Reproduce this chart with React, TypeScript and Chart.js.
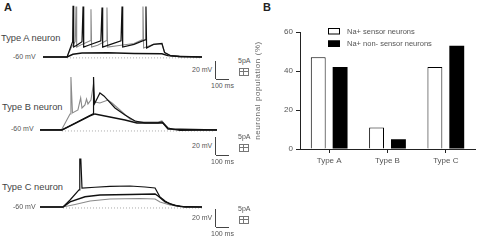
import React, { useEffect, useRef } from "react";
import { Chart, registerables } from "chart.js";
Chart.register(...registerables);

const FONT = "'Liberation Sans', Arial, Helvetica, sans-serif";

// ---------------- Panel B data ----------------
const categories = ["Type A", "Type B", "Type C"];
const sensorNeurons = [47, 11, 42];
const nonSensorNeurons = [42, 5, 53];
const yTickValues = [0, 20, 40, 60];
const legendLabels = ["Na+ sensor neurons", "Na+ non- sensor neurons"];
const yAxisTitle = "neuronal population (%)";

// ---------------- Panel A data (time ms, membrane potential mV) ----------------
type Pair = [number, number];

const typeASubthreshold: Pair[] = [[0,-60],[185,-60],[230,-57],[300,-55.5],[500,-55.3],[700,-56],[915,-56.5],[960,-58.5],[1050,-59.5],[1223,-60]];
const typeASpikingBlack: Pair[] = [[0,-60],[185,-60],[215,-48],[228,-43],[231,-3],[236,-49],[260,-47],[300,-43],[308,-4],[313,-49],[350,-47],[445,-42],[454,-5],[459,-49],[520,-46],[600,-42],[608,-4],[613,-49],[700,-46],[785,-41],[792,-4],[797,-50],[850,-46],[915,-45],[935,-55],[980,-58.5],[1050,-59.5],[1223,-60]];
const typeASpikingGray: Pair[] = [[0,-60],[185,-60],[215,-50],[248,-43],[254,-4],[259,-49],[300,-46],[362,-42],[369,-7],[374,-49],[420,-47],[485,-42],[492,-5],[497,-49],[600,-47],[700,-45],[762,-41],[769,-4],[774,-50],[850,-46],[915,-45.5],[935,-55],[980,-58.5],[1223,-60]];
const typeABaseline: Pair[] = [[185,-61],[1207,-61]];

const typeBGray: Pair[] = [[0,-60],[165,-60],[231,-42.2],[238,-1.1],[250,-41.1],[292,-37.8],[313,-24.4],[323,-35.6],[346,-32.2],[358,-25.6],[369,-31.1],[392,-26.7],[408,-12.2],[423,-28.9],[461,-30],[523,-26.7],[554,-30],[615,-37.8],[692,-47.8],[754,-51.1],[908,-51.1],[938,-50],[985,-57.8],[1038,-60],[1362,-60]];
const typeBBlackSpike: Pair[] = [[0,-60],[169,-60],[408,-42.2],[412,-1.1],[419,-31.1],[461,-18.9],[492,-22.2],[577,-35.6],[654,-43.3],[731,-50],[808,-52.2],[908,-52.2],[938,-51.1],[985,-57.8],[1077,-60.6],[1362,-60]];
const typeBBlackSub: Pair[] = [[0,-60],[169,-60],[385,-44.4],[423,-42.2],[538,-45.6],[654,-48.9],[746,-52.2],[908,-52.2],[946,-52.2],[985,-58.9],[1362,-60]];
const typeBBaseline: Pair[] = [[169,-61.1],[1346,-61.1]];

const typeCTop: Pair[] = [[0,-60],[177,-60],[231,-52.2],[300,-41.1],[306,-6.7],[314,-6.7],[323,-38.9],[423,-38.1],[538,-37.2],[692,-36.7],[808,-37.8],[885,-38.9],[923,-48.9],[962,-53.3],[1000,-56.7],[1077,-59.4],[1246,-60]];
const typeCMid: Pair[] = [[0,-60],[177,-60],[231,-54.4],[346,-48.6],[461,-46.7],[692,-46.1],[885,-45.6],[908,-47.8],[962,-54.4],[1038,-58.3],[1115,-60],[1246,-60]];
const typeCLow: Pair[] = [[0,-60],[177,-60],[269,-57.2],[385,-53.3],[538,-51.1],[769,-50.6],[885,-51.1],[923,-54.4],[1000,-57.8],[1115,-60],[1246,-60]];
const typeCBaseline: Pair[] = [[177,-61.1],[1246,-61.1]];

type Trace = { data: Pair[]; color: string; width: number; dash?: number[] };

function TraceChart(props: { traces: Trace[]; left: number; top: number; width: number; height: number; xMax: number; yMin: number; yMax: number }) {
  const ref = useRef<HTMLCanvasElement>(null);
  useEffect(() => {
    const chart = new Chart(ref.current!, {
      type: "line",
      data: {
        datasets: props.traces.map((tr) => ({
          data: tr.data.map(([x, y]) => ({ x, y })),
          borderColor: tr.color,
          borderWidth: tr.width,
          borderDash: tr.dash || [],
          pointRadius: 0,
          tension: 0,
          fill: false,
          clip: false,
        })) as any,
      },
      options: {
        animation: false,
        responsive: false,
        devicePixelRatio: 1,
        events: [],
        layout: { padding: 0 },
        plugins: { legend: { display: false }, tooltip: { enabled: false } },
        scales: {
          x: { type: "linear", display: false, min: 0, max: props.xMax },
          y: { type: "linear", display: false, min: props.yMin, max: props.yMax },
        },
      },
    });
    return () => chart.destroy();
  }, []);
  return (
    <canvas
      ref={ref}
      width={props.width}
      height={props.height}
      style={{ position: "absolute", left: props.left, top: props.top, width: props.width, height: props.height }}
    />
  );
}

const legendPlugin = {
  id: "insideLegend",
  afterDraw(chart: any) {
    const ctx = chart.ctx as CanvasRenderingContext2D;
    ctx.save();
    legendLabels.forEach((label, i) => {
      const y = 8 + i * 12.5;
      ctx.fillStyle = i === 0 ? "#fff" : "#000";
      ctx.fillRect(78, y, 12, 6.5);
      ctx.strokeStyle = "#000";
      ctx.lineWidth = 1;
      ctx.strokeRect(78.5, y + 0.5, 11, 5.5);
      ctx.fillStyle = "#555";
      ctx.font = `7.5px ${FONT}`;
      ctx.textBaseline = "middle";
      ctx.fillText(label, 97, y + 3.5);
    });
    ctx.restore();
    // rotated y-axis title with slight letter spacing (canvas coords)
    ctx.save();
    const area = chart.chartArea;
    ctx.translate(8, (area.top + area.bottom) / 2);
    ctx.rotate(-Math.PI / 2);
    (ctx as any).letterSpacing = "0.6px";
    ctx.fillStyle = "#666";
    ctx.font = `8px ${FONT}`;
    ctx.textAlign = "center";
    ctx.textBaseline = "middle";
    ctx.fillText(yAxisTitle, 0, 0);
    ctx.restore();
  },
};

function BarPanel() {
  const ref = useRef<HTMLCanvasElement>(null);
  useEffect(() => {
    const chart = new Chart(ref.current!, {
      type: "bar",
      data: {
        labels: categories,
        datasets: [
          { label: legendLabels[0], data: sensorNeurons, backgroundColor: "#fff", borderColor: "#000", borderWidth: 1 },
          { label: legendLabels[1], data: nonSensorNeurons, backgroundColor: "#000", borderColor: "#000", borderWidth: 0 },
        ],
      },
      options: {
        animation: false,
        responsive: false,
        devicePixelRatio: 1,
        events: [],
        datasets: { bar: { categoryPercentage: 0.75, barPercentage: 0.68 } },
        layout: { padding: { top: 12, right: 2, left: 0, bottom: 0 } },
        plugins: { legend: { display: false }, tooltip: { enabled: false } },
        scales: {
          x: {
            type: "category",
            grid: { display: true, drawOnChartArea: false, drawTicks: true, tickLength: 4, offset: false, color: "#222" },
            border: { display: true, color: "#222", width: 1 },
            ticks: { color: "#555", font: { family: FONT, size: 8 }, padding: 3 },
            afterFit: (s: any) => { s.height = 23; },
          },
          y: {
            type: "linear",
            min: 0,
            max: 60,
            afterBuildTicks: (s: any) => { s.ticks = yTickValues.map((v) => ({ value: v })); },
            ticks: { color: "#555", font: { family: FONT, size: 8 }, padding: 3 },
            grid: { drawOnChartArea: false, drawTicks: true, tickLength: 4, color: "#222" },
            border: { display: true, color: "#222", width: 1 },
            title: { display: false, text: yAxisTitle },
            afterFit: (s: any) => { s.width = 50; },
          },
        },
      },
      plugins: [legendPlugin],
    });
    return () => chart.destroy();
  }, []);
  return <canvas ref={ref} width={227} height={152} style={{ position: "absolute", left: 250, top: 20, width: 227, height: 152 }} />;
}

function Txt(props: { x: number; cy: number; size: number; text: string; bold?: boolean; color?: string }) {
  return (
    <div
      style={{
        position: "absolute",
        left: props.x,
        top: props.cy - props.size * 0.58,
        fontSize: props.size,
        lineHeight: 1,
        whiteSpace: "nowrap",
        fontFamily: FONT,
        fontWeight: props.bold ? "bold" : "normal",
        color: props.color || "#444",
      }}
    >
      {props.text}
    </div>
  );
}

function Box(props: { x: number; y: number; w: number; h: number; c?: string }) {
  return <div style={{ position: "absolute", left: props.x, top: props.y, width: props.w, height: props.h, background: props.c || "#444" }} />;
}

function ScaleBars(props: { cy: number }) {
  const c = props.cy; // center of "20 mV" label
  return (
    <>
      <Txt x={192} cy={c} size={7} text="20 mV" color="#555" />
      <Box x={215} y={c - 9} w={1} h={18} />
      <Box x={216} y={c + 9} w={13} h={1} />
      <Txt x={211} cy={c + 16} size={7} text="100 ms" color="#555" />
      <Txt x={238} cy={c - 9} size={7} text="5pA" color="#555" />
      <div style={{ position: "absolute", left: 239, top: c - 2, width: 8, height: 6, border: "1px solid #777" }} />
      <Box x={240} y={c + 1} w={8} h={1} c="#777" />
      <Box x={243} y={c - 2} w={1} h={8} c="#777" />
    </>
  );
}

const BLACK = "#111";
const GRAY = "#8a8a8a";
const DOT = "#aaa";

export default function App() {
  return (
    <div style={{ position: "fixed", left: 0, top: 0, width: 477, height: 240, background: "#fff", overflow: "hidden" }}>
      <Txt x={4} cy={8} size={11} bold text="A" color="#222" />
      <Txt x={263} cy={8} size={11} bold text="B" color="#222" />

      {/* Row A */}
      <Txt x={1} cy={39} size={9.3} text="Type A neuron" />
      <Txt x={13} cy={57} size={7} text="-60 mV" color="#555" />
      <TraceChart
        left={43} top={2} width={159} height={62} xMax={1223} yMin={-67.8} yMax={1.1}
        traces={[
          { data: typeASpikingBlack, color: BLACK, width: 1.2 },
          { data: typeASubthreshold, color: BLACK, width: 1.5 },
          { data: typeASpikingGray, color: GRAY, width: 1.1 },
          { data: typeABaseline, color: DOT, width: 1, dash: [1, 2] },
        ]}
      />
      <ScaleBars cy={70} />

      {/* Row B */}
      <Txt x={2} cy={108} size={9.3} text="Type B neuron" />
      <Txt x={11} cy={129} size={7} text="-60 mV" color="#555" />
      <TraceChart
        left={40} top={72} width={177} height={64} xMax={1362} yMin={-66.7} yMax={4.4}
        traces={[
          { data: typeBBlackSpike, color: BLACK, width: 1.2 },
          { data: typeBBlackSub, color: BLACK, width: 1.4 },
          { data: typeBGray, color: GRAY, width: 1.1 },
          { data: typeBBaseline, color: DOT, width: 1, dash: [1, 2] },
        ]}
      />
      <ScaleBars cy={146} />

      {/* Row C */}
      <Txt x={2} cy={188} size={9.3} text="Type C neuron" />
      <Txt x={13} cy={207} size={7} text="-60 mV" color="#555" />
      <TraceChart
        left={40} top={152} width={162} height={62} xMax={1246} yMin={-67.8} yMax={1.1}
        traces={[
          { data: typeCTop, color: BLACK, width: 1.2 },
          { data: typeCMid, color: BLACK, width: 1.4 },
          { data: typeCLow, color: GRAY, width: 1.1 },
          { data: typeCBaseline, color: DOT, width: 1, dash: [1, 2] },
        ]}
      />
      <ScaleBars cy={218} />

      <BarPanel />
    </div>
  );
}
